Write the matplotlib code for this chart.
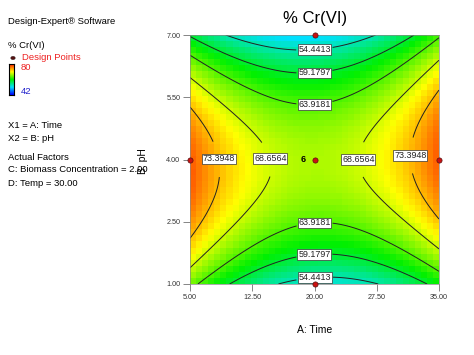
import numpy as np
import matplotlib
matplotlib.use("Agg")
import matplotlib.pyplot as plt
from matplotlib.colors import LinearSegmentedColormap

plt.rcParams['font.family'] = ['Liberation Sans', 'DejaVu Sans']

# ---- data ----
title = "% Cr(VI)"
x_label = "A: Time"
y_label = "B: pH"
x_ticks = [5.00, 12.50, 20.00, 27.50, 35.00]
y_ticks = [1.00, 2.50, 4.00, 5.50, 7.00]
contour_levels = [54.4413, 59.1797, 63.9181, 68.6564, 73.3948]
color_min, color_max = 42, 80
# fitted quadratic response surface (estimated from contours)
coef_c = 67.4     # centre value
coef_pA = 0.045   # A^2 (centred at 20)
coef_qB = 1.72    # -B^2 (centred at 4)
coef_bB = -0.34   # B linear
coef_iAB = 0.05   # AB interaction
design_x = [20, 20, 5, 35, 20]
design_y = [7, 1, 4, 4, 4]
center_count = "6"
left_texts = ["X1 = A: Time", "X2 = B: pH"]
actual_factors = ["C: Biomass Concentration = 2.00", "D: Temp = 30.00"]

def response(A, B):
    v = A - 20.0
    u = B - 4.0
    return coef_c + coef_pA * v**2 - coef_qB * u**2 + coef_bB * u + coef_iAB * v * u

W, H = 474, 355
fig = plt.figure(figsize=(W/100, H/100), dpi=100)
ax = fig.add_axes([190/W, 1-284/H, (439-190)/W, (284-35)/H])

cmap = LinearSegmentedColormap.from_list(
    "de", [(0, "#0000ff"), (0.25, "#00e0ff"), (0.5, "#00f000"), (0.75, "#ffff00"), (1.0, "#ff2000")])

# pixelated surface
nx, ny = 41, 41
xe = np.linspace(5, 35, nx + 1)
ye = np.linspace(1, 7, ny + 1)
xc = (xe[:-1] + xe[1:]) / 2
yc = (ye[:-1] + ye[1:]) / 2
XC, YC = np.meshgrid(xc, yc)
ax.pcolormesh(xe, ye, response(XC, YC), cmap=cmap, vmin=color_min, vmax=color_max, shading='flat')

# smooth contours
xs = np.linspace(5, 35, 300)
ys = np.linspace(1, 7, 300)
XS, YS = np.meshgrid(xs, ys)
cs = ax.contour(XS, YS, response(XS, YS), levels=contour_levels, colors='#222222', linewidths=0.7)
manual = [(20, 6.64), (20, 1.17), (20, 6.09), (20, 1.65), (20, 5.34), (20, 2.47),
          (14.3, 4.0), (25.1, 4.0), (8.1, 4.0), (31.0, 4.1)]
labels = ax.clabel(cs, fmt='%.4f', fontsize=6.4, inline=True, inline_spacing=2, manual=manual)
for t in labels:
    t.set_rotation(0)
    t.set_bbox(dict(facecolor='white', edgecolor='#333333', linewidth=0.5, pad=0.5))

# design points
ax.scatter(design_x, design_y, s=14, color='#cc1111', edgecolors='#551111', linewidths=0.5,
           zorder=5, clip_on=False)
ax.text(19.0, 4.0, center_count, fontsize=6.5, ha='right', va='center', fontweight='bold', zorder=6)

ax.set_xlim(5, 35)
ax.set_ylim(1, 7)
ax.set_xticks(x_ticks)
ax.set_yticks(y_ticks)
ax.set_xticklabels([f"{t:.2f}" for t in x_ticks])
ax.set_yticklabels([f"{t:.2f}" for t in y_ticks])
ax.tick_params(labelsize=5.2, length=5, width=0.5, color='#555555', labelcolor='#333333', pad=2)
for s in ax.spines.values():
    s.set_linewidth(0.5)
    s.set_color('#888888')

fig.text(315/W, 1-18/H, title, fontsize=12, ha='center', va='center')
fig.text(315/W, 1-330/H, x_label, fontsize=7.5, ha='center', va='center')
fig.text(143/W, 1-161/H, y_label, fontsize=7.5, ha='center', va='center', rotation=90)

# left panel
fs = 6.8
fig.text(8/W, 1-22/H, "Design-Expert® Software", fontsize=fs, va='center')
fig.text(8/W, 1-46/H, "% Cr(VI)", fontsize=fs, va='center')
fig.text(22/W, 1-58/H, "Design Points", fontsize=fs, va='center', color='#ee2222')
fig.patches.append(plt.Circle((13/W, 1-58/H), 2.2/W, transform=fig.transFigure,
                              facecolor='#551111', edgecolor='#221111', lw=0.3))
cax = fig.add_axes([9/W, 1-95/H, 5/W, 31/H])
grad = np.linspace(0, 1, 100).reshape(-1, 1)
cax.imshow(grad, cmap=cmap, aspect='auto', origin='lower')
cax.set_xticks([]); cax.set_yticks([])
for s in cax.spines.values():
    s.set_linewidth(0.8); s.set_color('black')
fig.text(21/W, 1-68/H, str(color_max), fontsize=fs, va='center', color='#ee2222')
fig.text(21/W, 1-92/H, str(color_min), fontsize=fs, va='center', color='#2222cc')
fig.text(8/W, 1-126/H, left_texts[0], fontsize=fs, va='center')
fig.text(8/W, 1-139/H, left_texts[1], fontsize=fs, va='center')
fig.text(8/W, 1-157/H, "Actual Factors", fontsize=fs, va='center')
fig.text(8/W, 1-170/H, actual_factors[0], fontsize=fs, va='center')
fig.text(8/W, 1-184/H, actual_factors[1], fontsize=fs, va='center')

fig.savefig("out.png", dpi=100)
